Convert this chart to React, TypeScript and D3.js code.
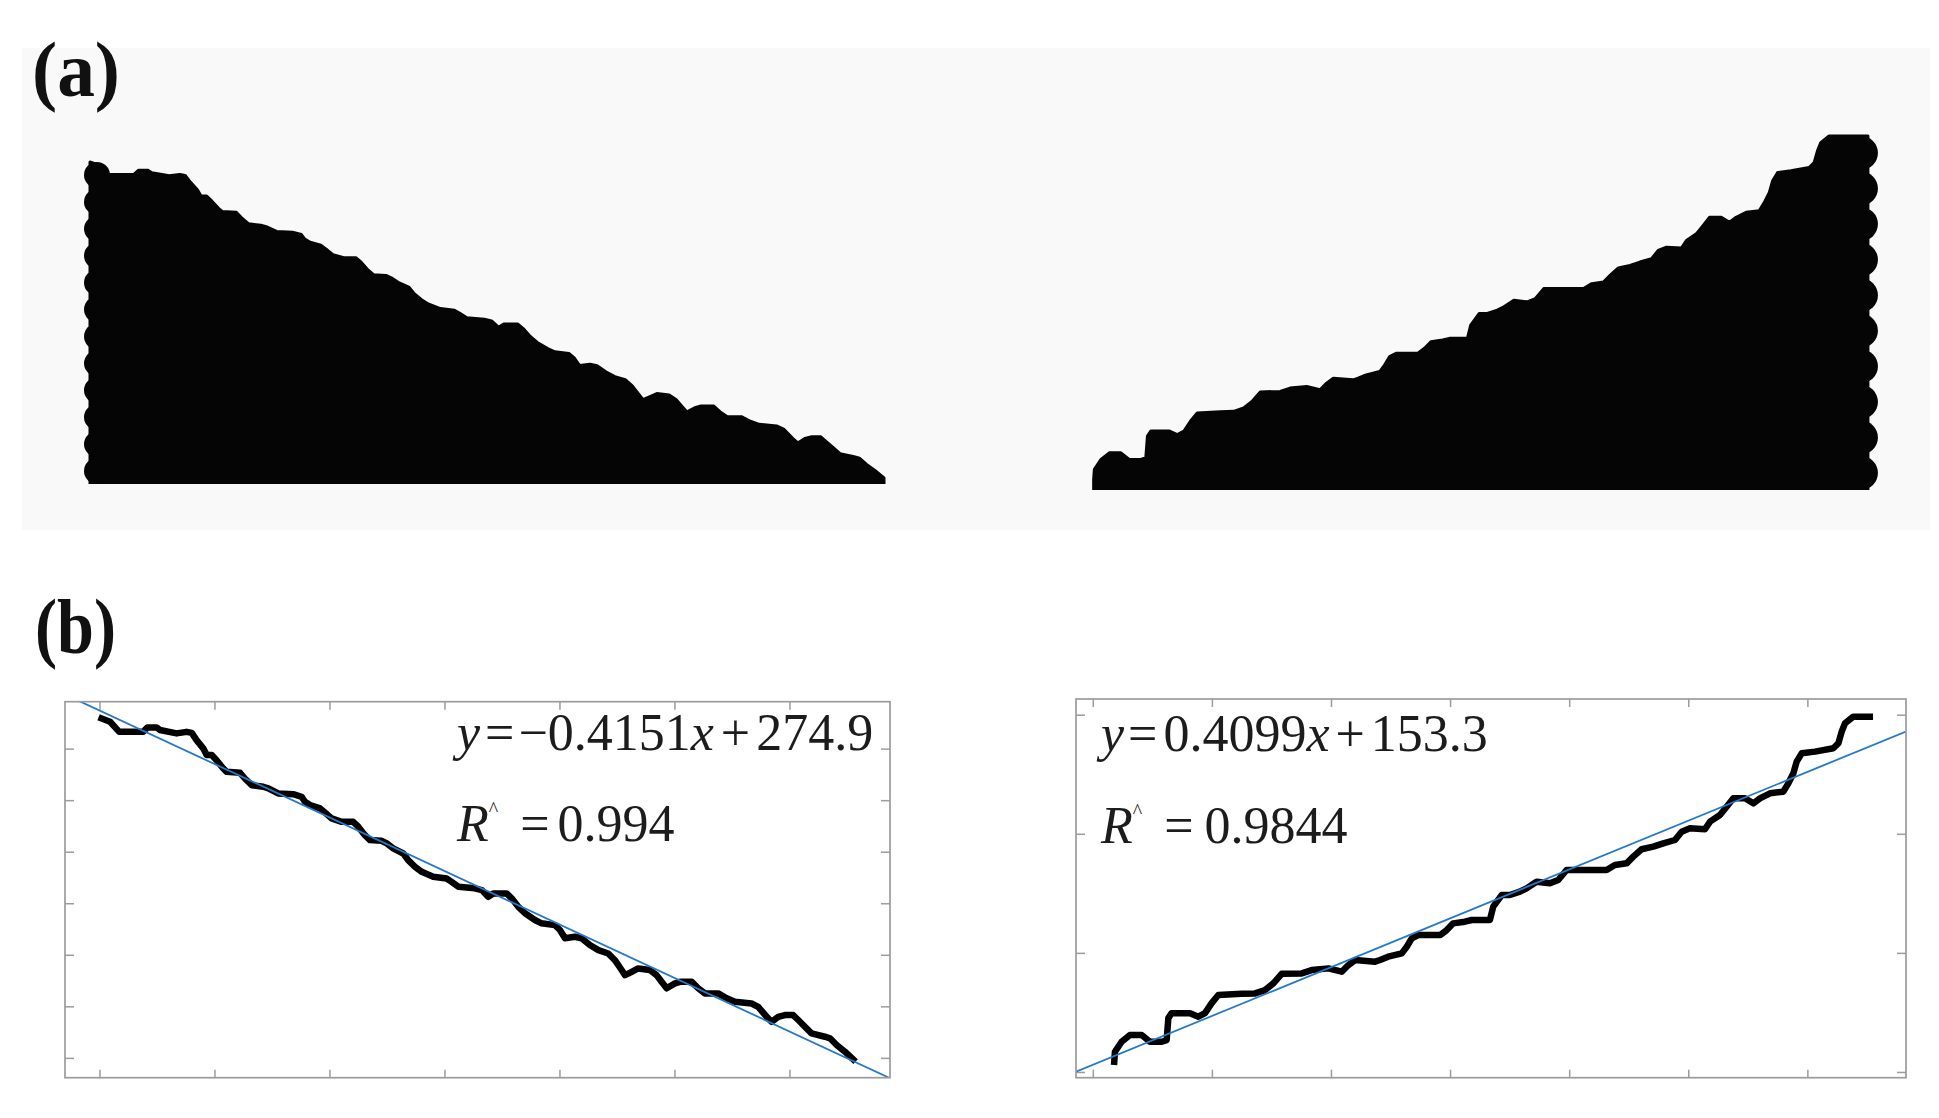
import React from 'react';
import * as d3 from 'd3';

// ---- Profile of the left silhouette (top edge) (b) left ----
const leftX = [0.7, 4.4, 8.4, 18.8, 20.6, 24.7, 26.1, 33.3, 37.7, 39.9, 42.0, 44.9, 46.4, 48.6, 50.7, 53.6, 55.1, 60.9, 63.0, 66.0,
  71.0, 73.2, 77.5, 84.0, 87.7, 89.1, 91.3, 95.7, 98.6, 100.7, 105.1, 110.1, 112.3, 115.2, 117.4, 122.5, 124.7, 127.5, 131.9, 134.0,
  137.0, 139.9, 144.9, 150.7, 152.9, 155.8, 163.0, 166.0, 168.8, 171.0, 176.8, 179.0, 181.9, 184.8, 189.1, 192.0, 197.8, 200.0, 202.2, 206.5,
  209.4, 213.0, 216.7, 221.0, 223.9, 226.8, 228.3, 231.2, 234.0, 239.1, 242.0, 244.2, 246.4, 250.0, 252.2, 257.3, 260.1, 263.0, 268.8, 272.5,
  276.1, 283.3, 286.2, 289.9, 292.0, 294.9, 297.8, 301.4, 303.6, 306.5, 309.4, 315.2, 317.4, 320.3, 323.9, 327.5];
const leftY = [271.9, 270.6, 266.7, 266.7, 268.4, 268.4, 267.4, 266.1, 266.7, 266.3, 263.5, 260.3, 257.7, 257.7, 255.7, 252.5, 251.2, 250.8, 248.6, 246.0,
  245.4, 244.8, 242.8, 242.5, 241.5, 239.6, 238.3, 237.0, 234.8, 233.1, 231.8, 231.8, 229.9, 226.6, 224.7, 224.4, 223.4, 221.5, 219.5, 216.9,
  214.3, 212.4, 210.5, 209.8, 208.5, 206.6, 206.0, 205.3, 202.7, 204.0, 204.0, 202.1, 198.8, 196.3, 193.7, 192.4, 191.7, 189.8, 186.6, 187.2,
  186.6, 184.0, 182.0, 180.7, 178.1, 174.3, 172.3, 173.6, 174.9, 174.3, 172.3, 169.7, 167.2, 169.1, 169.7, 169.7, 167.2, 165.2, 165.2, 163.3,
  162.0, 161.3, 160.0, 156.1, 154.2, 156.1, 156.8, 156.8, 154.9, 152.3, 149.7, 148.4, 147.8, 145.2, 142.6, 139.6];

// ---- Profile of the right silhouette (top edge) (b) right ----
const rightX = [8.8, 9.1, 11.9, 15.4, 20.3, 23.8, 28.7, 30.8, 31.5, 32.9, 40.6, 44.1, 46.9, 49.7, 52.5, 62.3, 67.9, 72.1, 75.6, 79.1,
  87.5, 91.7, 98.7, 104.3, 107.1, 109.9, 118.3, 120.4, 123.8, 129.5, 131.6, 133.7, 136.4, 145.6, 148.4, 151.1, 156.0, 158.9, 166.5, 167.9,
  171.5, 174.9, 179.1, 181.9, 186.1, 191.7, 195.2, 198.7, 215.5, 219.0, 223.9, 226.7, 230.2, 235.1, 239.3, 244.2, 247.0, 250.5, 256.8, 258.9,
  263.1, 265.9, 268.7, 273.6, 277.1, 279.9, 284.1, 289.7, 291.8, 293.9, 295.3, 297.4, 303.0, 310.7, 312.8, 314.2, 315.6, 319.1, 326.0];
const rightY = [154.5, 158.7, 162.9, 165.7, 165.7, 162.9, 162.9, 163.6, 172.8, 174.9, 174.9, 173.4, 174.9, 179.1, 182.5, 183.0, 183.2, 184.6, 187.4, 191.4,
  191.6, 193.0, 193.7, 192.3, 195.1, 197.2, 196.5, 197.2, 198.6, 200.0, 202.8, 206.3, 207.7, 207.7, 209.8, 212.6, 213.3, 214.0, 214.0, 219.6,
  224.5, 224.5, 225.9, 227.3, 230.1, 229.4, 230.8, 235.0, 235.0, 237.1, 237.8, 240.6, 243.7, 244.8, 246.2, 247.6, 251.1, 252.5, 252.1, 255.3,
  258.1, 261.6, 265.1, 265.1, 263.0, 265.1, 267.2, 267.9, 271.4, 275.6, 280.5, 284.0, 284.7, 286.1, 288.2, 293.1, 296.6, 299.4, 299.4];

// ---- Linear fits ----
const leftFit = { slope: -0.4151, intercept: 274.9, r: '0.994' };
const rightFit = { slope: 0.4099, intercept: 153.3, r: '0.9844' };

// ---- Axis ticks / limits of panel (b) ----
const leftXTicks = [0, 50, 100, 150, 200, 250, 300];
const leftYTicks = [140, 160, 180, 200, 220, 240, 260];
const rightXTicks = [0, 50, 100, 150, 200, 250, 300];
const rightYTicks = [150, 200, 250, 300];
const leftXDomain = [-15.2, 343.5];
const leftYDomain = [132.5, 278.4];
const rightXDomain = [-7.26, 341.2];
const rightYDomain = [147.8, 306.8];

// ---- Silhouette geometry in data units (panel a) ----
const leftBase = 137;
const rightBase = 150;
const rightEdge = 335.5;

const SERIF = "'Liberation Serif', 'Times New Roman', Times, serif";
const W = 1939;
const H = 1118;

type Pt = [number, number];

function Silhouette(props: {
  xs: number[]; ys: number[]; base: number; edge: number | null; side: 'left' | 'right';
  xRange: [number, number]; xDom: [number, number]; yRange: [number, number]; yDom: [number, number];
  R: number; D: number;
}) {
  const { xs, ys, base, edge, side, R, D } = props;
  const xS = d3.scaleLinear().domain(props.xDom).range(props.xRange);
  const yS = d3.scaleLinear().domain(props.yDom).range(props.yRange);
  const pts: Pt[] = [];
  pts.push([xs[0], base]);
  xs.forEach((x, i) => pts.push([x, ys[i]]));
  const last = xs.length - 1;
  if (edge !== null) {
    pts.push([edge, ys[last]]);
    pts.push([edge, base]);
  } else {
    pts.push([xs[last], base]);
  }
  const line = d3.line<Pt>().x(d => xS(d[0])).y(d => yS(d[1]));
  let edgePx: number;
  let topPx: number;
  if (side === 'left') {
    edgePx = xS(xs[0]);
    topPx = yS(ys[0]);
  } else {
    edgePx = xS(edge as number);
    topPx = yS(ys[last]);
  }
  const basePx = yS(base);
  const span = basePx - topPx - 2 * R;
  const n = Math.round(span / (2 * R)) + 1;
  const step = span / (n - 1);
  const cys = d3.range(n).map(i => topPx + R + i * step);
  const cx = side === 'left' ? edgePx - D + R : edgePx + D - R;
  return (
    <g>
      <path d={line(pts) || ''} fill="#050505" stroke="#050505" strokeWidth={3} strokeLinejoin="round" />
      {cys.map((cy, i) => (
        <circle key={i} cx={cx} cy={cy} r={R} fill="#050505" />
      ))}
    </g>
  );
}

function FitPanel(props: {
  id: string; xs: number[]; ys: number[]; fit: { slope: number; intercept: number; r: string };
  xDom: number[]; yDom: number[]; xTicks: number[]; yTicks: number[];
  box: { x0: number; x1: number; y0: number; y1: number };
  textX: number; eqBase: number; rBase: number; eqGaps: number[]; rGaps: number[];
}) {
  const { id, xs, ys, fit, box } = props;
  const xS = d3.scaleLinear().domain(props.xDom).range([box.x0, box.x1]);
  const yS = d3.scaleLinear().domain(props.yDom).range([box.y1, box.y0]);
  const pts: Pt[] = xs.map((x, i) => [x, ys[i]]);
  const line = d3.line<Pt>().x(d => xS(d[0])).y(d => yS(d[1]));
  const fitPts: Pt[] = props.xDom.map(x => [x, fit.slope * x + fit.intercept] as Pt);
  const tickColor = '#9c9c9c';
  const tx = 8;
  const ty = 9;
  const slopeStr = (fit.slope < 0 ? '\u2212' : '') + Math.abs(fit.slope).toString();
  const g = props.eqGaps;
  const rg = props.rGaps;
  return (
    <g>
      <defs>
        <clipPath id={id}>
          <rect x={box.x0} y={box.y0} width={box.x1 - box.x0} height={box.y1 - box.y0} />
        </clipPath>
      </defs>
      <rect x={box.x0} y={box.y0} width={box.x1 - box.x0} height={box.y1 - box.y0} fill="#ffffff" />
      {props.xTicks.map(t => (
        <g key={'x' + t}>
          <line x1={xS(t)} x2={xS(t)} y1={box.y1} y2={box.y1 - tx} stroke={tickColor} strokeWidth={1.5} />
          <line x1={xS(t)} x2={xS(t)} y1={box.y0} y2={box.y0 + tx} stroke={tickColor} strokeWidth={1.5} />
        </g>
      ))}
      {props.yTicks.map(t => (
        <g key={'y' + t}>
          <line x1={box.x0} x2={box.x0 + ty} y1={yS(t)} y2={yS(t)} stroke={tickColor} strokeWidth={1.5} />
          <line x1={box.x1} x2={box.x1 - ty} y1={yS(t)} y2={yS(t)} stroke={tickColor} strokeWidth={1.5} />
        </g>
      ))}
      <g clipPath={`url(#${id})`}>
        <path d={line(pts) || ''} fill="none" stroke="#000000" strokeWidth={6.5} strokeLinejoin="round" strokeLinecap="square" />
        <path d={line(fitPts) || ''} fill="none" stroke="#2479c9" strokeWidth={1.8} />
      </g>
      <rect x={box.x0} y={box.y0} width={box.x1 - box.x0} height={box.y1 - box.y0} fill="none" stroke={tickColor} strokeWidth={1.7} />
      <text x={props.textX} y={props.eqBase} fontFamily={SERIF} fontSize={52} fill="#1c1c1c">
        <tspan fontStyle="italic">y</tspan>
        <tspan dx={g[0]}>=</tspan>
        <tspan dx={g[1]}>{slopeStr}</tspan>
        <tspan fontStyle="italic">x</tspan>
        <tspan dx={g[2]}>+</tspan>
        <tspan dx={g[3]}>{String(fit.intercept)}</tspan>
      </text>
      <text x={props.textX} y={props.rBase} fontFamily={SERIF} fontSize={52} fill="#1c1c1c">
        <tspan fontStyle="italic">R</tspan>
        <tspan fontSize={20} dy={-25}>^</tspan>
        <tspan dx={rg[0]} dy={25}>=</tspan>
        <tspan dx={rg[1]}>{fit.r}</tspan>
      </text>
    </g>
  );
}

export default function App() {
  return (
    <svg width={W} height={H} viewBox={`0 0 ${W} ${H}`}
      style={{ position: 'absolute', left: 0, top: 0, background: '#ffffff' }}>
      <rect x={0} y={0} width={W} height={H} fill="#ffffff" />
      <rect x={22} y={48} width={1908} height={482} fill="#f9f9f9" />

      <text x={32} y={96} fontFamily={SERIF} fontWeight="bold" fontSize={78} fill="#111"
        textLength={88} lengthAdjust="spacingAndGlyphs">(a)</text>
      <text x={35} y={653} fontFamily={SERIF} fontWeight="bold" fontSize={78} fill="#111"
        textLength={81} lengthAdjust="spacingAndGlyphs">(b)</text>

      <Silhouette xs={leftX} ys={leftY} base={leftBase} edge={null} side="left" R={13} D={6}
        xDom={[0.7, 327.5]} xRange={[90, 884]} yDom={[leftBase, 271.9]} yRange={[484, 162]} />
      <Silhouette xs={rightX} ys={rightY} base={rightBase} edge={rightEdge} side="right" R={17} D={10}
        xDom={[0, 340]} xRange={[1072.8, 1878.6]} yDom={[rightBase, 299.4]} yRange={[490, 136]} />

      <FitPanel id="clipL" xs={leftX} ys={leftY} fit={leftFit}
        xDom={leftXDomain} yDom={leftYDomain} xTicks={leftXTicks} yTicks={leftYTicks}
        box={{ x0: 65, x1: 890, y0: 701.7, y1: 1077.7 }}
        textX={457} eqBase={750} rBase={841} eqGaps={[5, 4, 7, 6]} rGaps={[22, 8]} />
      <FitPanel id="clipR" xs={rightX} ys={rightY} fit={rightFit}
        xDom={rightXDomain} yDom={rightYDomain} xTicks={rightXTicks} yTicks={rightYTicks}
        box={{ x0: 1076, x1: 1906, y0: 699, y1: 1077.7 }}
        textX={1101} eqBase={751} rBase={843} eqGaps={[4, 6, 6, 6]} rGaps={[22, 11]} />
    </svg>
  );
}
